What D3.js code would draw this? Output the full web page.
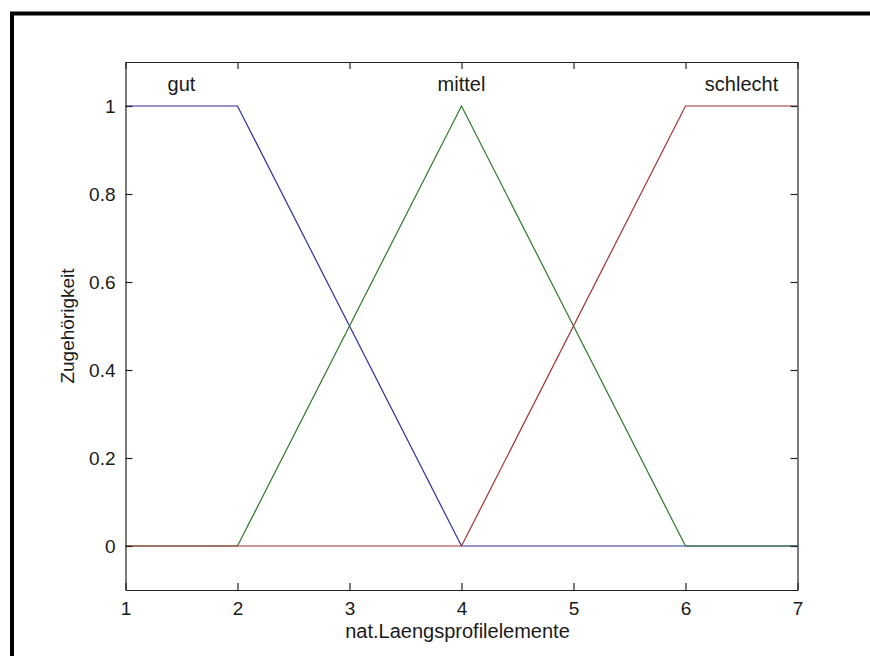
<!DOCTYPE html>
<html>
<head>
<meta charset="utf-8">
<script src="https://cdn.jsdelivr.net/npm/d3@7"></script>
<style>
  body { margin: 0; background: #fff; }
  svg text { font-family: "Liberation Sans", Arial, sans-serif; fill: #1a1a1a; }
</style>
</head>
<body>
<div id="chart"></div>
<script>
/* DATA */
const mfNames = ["gut", "mittel", "schlecht"];
const mfColors = ["#2f2fa0", "#2a7a2a", "#a83030"];
// membership function break points (x, y) over the input range 1..7
const gutPoints = [[1, 1], [2, 1], [4, 0], [7, 0]];
const mittelPoints = [[1, 0], [2, 0], [4, 1], [6, 0], [7, 0]];
const schlechtPoints = [[1, 0], [4, 0], [6, 1], [7, 1]];
// x position of each label (middle of the plateau / peak)
const labelX = [1.5, 4, 6.5];
const xTicks = [1, 2, 3, 4, 5, 6, 7];
const yTicks = [0, 0.2, 0.4, 0.6, 0.8, 1];
const xTitle = "nat.Laengsprofilelemente";
const yTitle = "Zugehörigkeit";

/* CONSTANTS */
const width = 870,
  height = 656,
  margin = { top: 62, bottom: 66, left: 125.5, right: 72.5 };

const svg = d3.select("#chart")
  .append("svg")
  .attr("width", width)
  .attr("height", height);

// frame around the figure (top and left edges only are visible)
svg.append("rect")
  .attr("x", 12).attr("y", 13.5)
  .attr("width", width + 20).attr("height", height + 20)
  .attr("fill", "none")
  .attr("stroke", "#000")
  .attr("stroke-width", 4);

const xScale = d3.scaleLinear()
  .domain([1, 7])
  .range([margin.left, width - margin.right]);

const yScale = d3.scaleLinear()
  .domain([-0.1, 1.1])
  .range([height - margin.bottom, margin.top]);

// + LINES
const line = d3.line()
  .x(d => xScale(d[0]))
  .y(d => yScale(d[1]));

const series = [gutPoints, mittelPoints, schlechtPoints];
svg.selectAll("path.mf")
  .data(series)
  .join("path")
  .attr("class", "mf")
  .attr("d", line)
  .attr("fill", "none")
  .attr("stroke", (d, i) => mfColors[i])
  .attr("stroke-width", 1.2);

// labels above the curves
svg.selectAll("text.mf-label")
  .data(mfNames)
  .join("text")
  .attr("class", "mf-label")
  .attr("x", (d, i) => xScale(labelX[i]))
  .attr("y", yScale(1) - 15)
  .attr("text-anchor", "middle")
  .attr("font-size", 20)
  .text(d => d);

// + AXES (inward ticks, box on all four sides)
const tickLen = 7;
const xAxis = d3.axisBottom(xScale).tickValues(xTicks).tickFormat(d3.format("d"))
  .tickSizeInner(-tickLen).tickSizeOuter(0).tickPadding(12);
const yAxis = d3.axisLeft(yScale).tickValues(yTicks).tickFormat(d => d === 0 || d === 1 ? d : d3.format(".1f")(d))
  .tickSizeInner(-tickLen).tickSizeOuter(0).tickPadding(10);

svg.append("g")
  .attr("class", "axis x-axis")
  .attr("transform", `translate(0,${height - margin.bottom})`)
  .call(xAxis);

svg.append("g")
  .attr("class", "axis y-axis")
  .attr("transform", `translate(${margin.left},0)`)
  .call(yAxis);

svg.append("g")
  .attr("transform", `translate(0,${margin.top})`)
  .call(d3.axisTop(xScale).tickValues(xTicks).tickFormat("").tickSizeInner(-tickLen).tickSizeOuter(0));

svg.append("g")
  .attr("transform", `translate(${width - margin.right},0)`)
  .call(d3.axisRight(yScale).tickValues(yTicks).tickFormat("").tickSizeInner(-tickLen).tickSizeOuter(0));

svg.selectAll(".domain, .tick line")
  .attr("stroke", "#222")
  .attr("stroke-width", 1.2);

svg.selectAll(".axis .tick text")
  .attr("font-size", 19)
  .attr("font-family", "'Liberation Sans', Arial, sans-serif")
  .attr("fill", "#1a1a1a");

// axis titles
svg.append("text")
  .attr("x", (xScale(1) + xScale(7)) / 2 - 4)
  .attr("y", 638)
  .attr("text-anchor", "middle")
  .attr("font-size", 20)
  .text(xTitle);

svg.append("text")
  .attr("transform", `translate(74,${(yScale(-0.1) + yScale(1.1)) / 2}) rotate(-90)`)
  .attr("text-anchor", "middle")
  .attr("font-size", 19)
  .text(yTitle);
</script>
</body>
</html>
